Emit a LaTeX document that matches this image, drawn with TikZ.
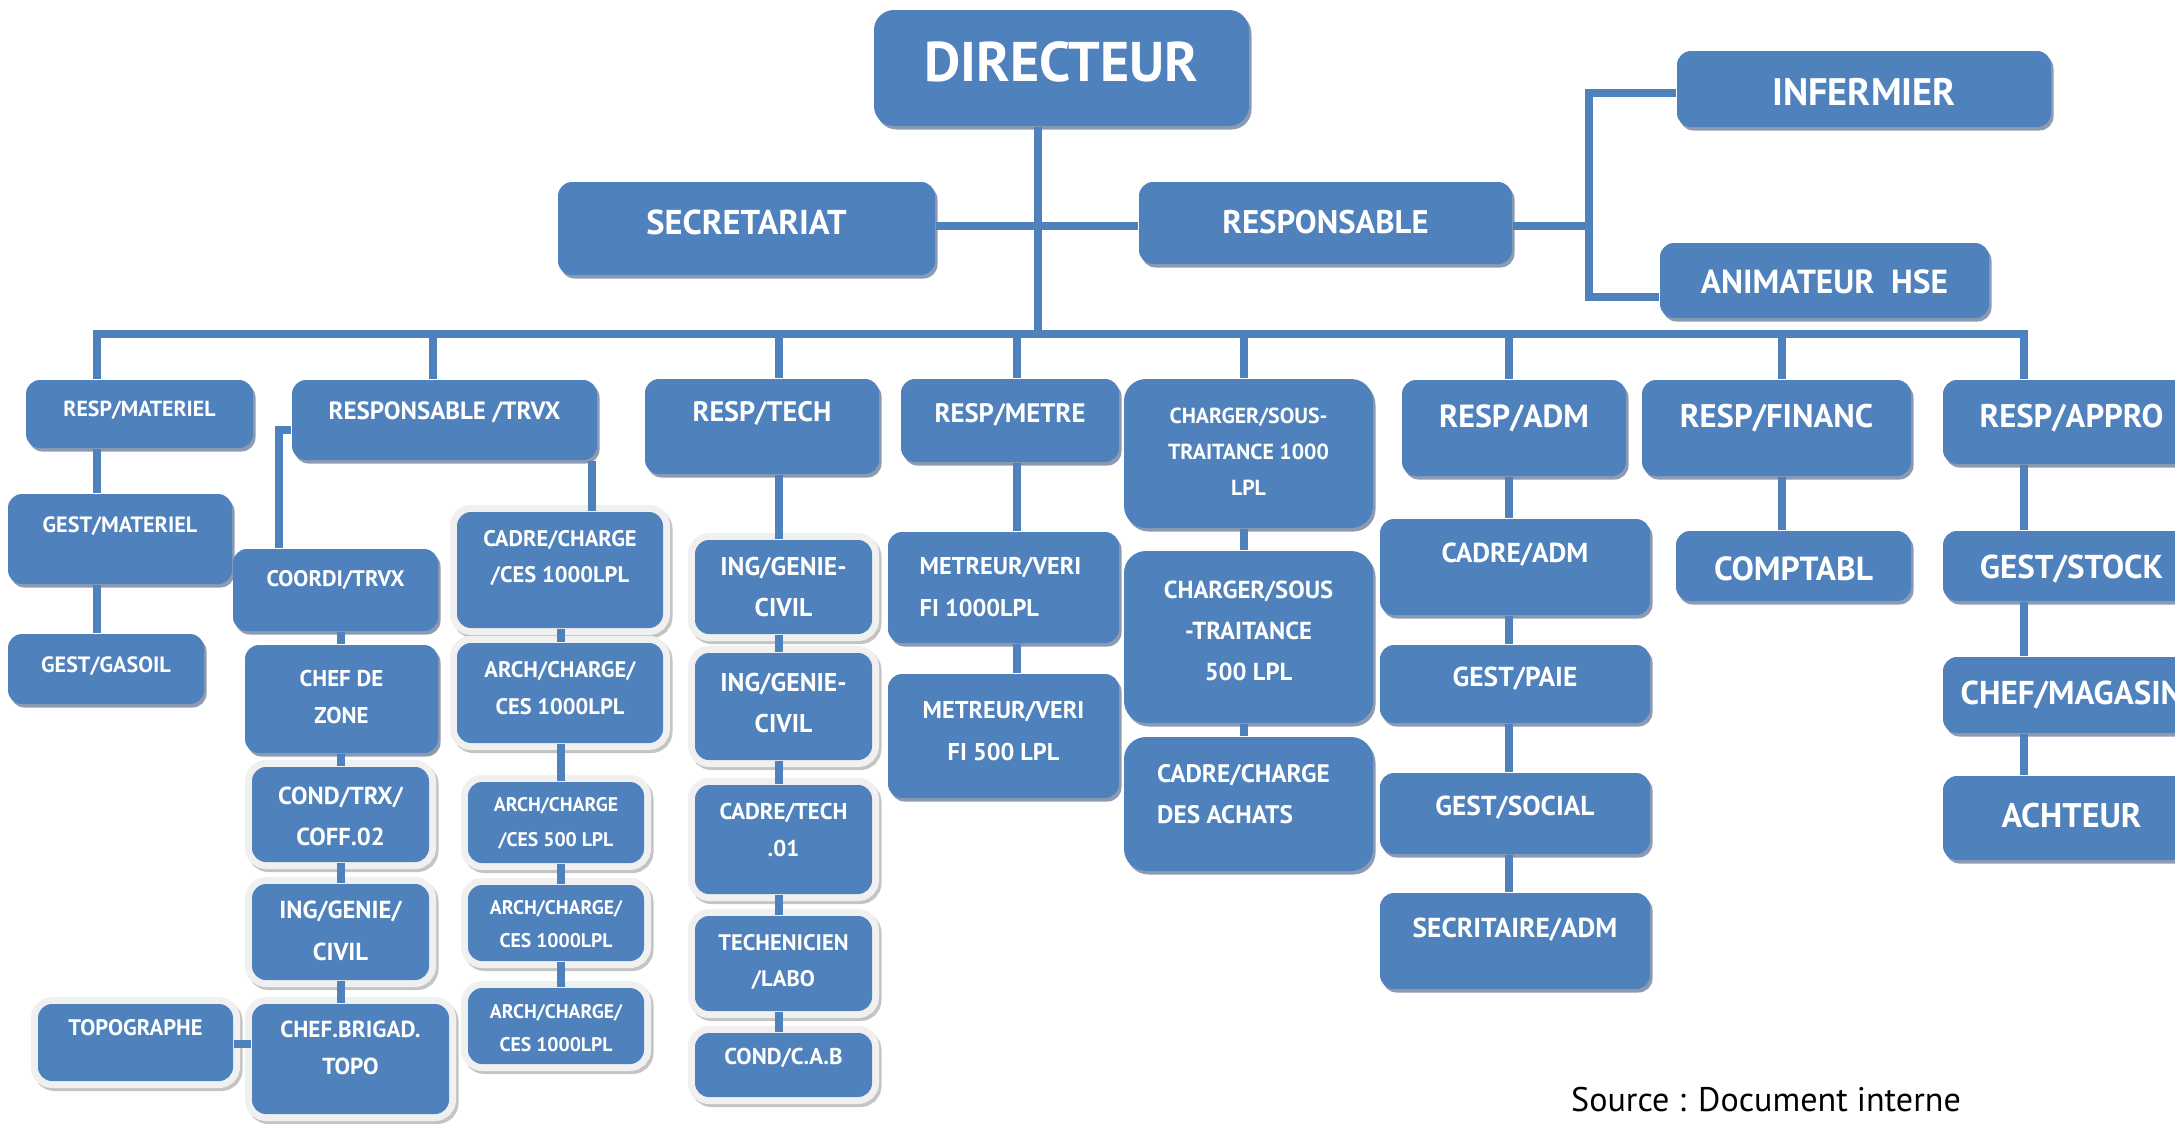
\documentclass[tikz,border=0pt]{standalone}
\usepackage{fontspec}
\setmainfont{PT Sans}
\usetikzlibrary{shadows}
\definecolor{boxblue}{RGB}{79,129,189}
\definecolor{boxshade}{RGB}{140,155,178}
\definecolor{halo}{RGB}{240,240,240}
\definecolor{haloshade}{RGB}{196,196,196}
\newcommand\fs[2]{\fontsize{#1}{#2}\selectfont\bfseries}
\tikzset{
  box/.style={fill=boxblue, rounded corners=0.14cm,
    drop shadow={shadow xshift=0.025cm, shadow yshift=-0.035cm, fill=boxshade, opacity=1}},
  halobox/.style={fill=boxblue, rounded corners=0.14cm,
    preaction={draw=haloshade, line width=0.14cm, transform canvas={xshift=0.025cm, yshift=-0.03cm}},
    preaction={draw=halo, line width=0.14cm}},
  lbl/.style={text=white, align=center, inner sep=0pt},
  conn/.style={draw=boxblue, line width=0.075cm},
}
% box: style, name, x1, y1, x2, y2, label options, label y, text
\newcommand\orgbox[9]{%
  \node[#1, minimum width={(#5-#3)*0.01cm}, minimum height={(#6-#4)*0.01cm}, inner sep=0pt]
    (#2) at ({(#3+#5)/2},{(#4+#6)/2}) {};
  \node[lbl, #7] (#2-t) at ({(#3+#5)/2},#8) {#9};}
\newcommand\vlink[3]{\draw[conn] (#1 |- #2.south) -- (#1 |- #3.north);}
\begin{document}
\begin{tikzpicture}[x=0.01cm, y=-0.01cm]
\useasboundingbox (0,0) rectangle (2175,1124);
\clip (0,0) rectangle (2175,1124);

% ---- direction
\orgbox{box, rounded corners=0.2cm}{dir}{874}{10}{1249}{126}{font=\fs{15.9}{19}}{62}{DIRECTEUR}
\orgbox{box}{sec}{558}{182}{935}{275}{font=\fs{9.8}{12}}{222}{SECRETARIAT}
\orgbox{box}{resp}{1139}{182}{1512}{264}{font=\fs{9.3}{12}}{222}{RESPONSABLE}
\orgbox{box}{inf}{1677}{51}{2051}{127}{font=\fs{10.9}{12}}{92}{INFERMIER}
\orgbox{box}{anim}{1660}{243}{1989}{318}{font=\fs{9.5}{12}}{282}{ANIMATEUR\hspace{0.5em}HSE}

% ---- services
\orgbox{box}{mat}{26}{380}{253}{448}{font=\fs{6.2}{9}}{410}{RESP/MATERIEL}
\orgbox{box}{trvx}{292}{380}{597}{460}{font=\fs{7.1}{10}}{412}{RESPONSABLE /TRVX}
\orgbox{box}{tech}{645}{379}{879}{474}{font=\fs{8}{10}}{413}{RESP/TECH}
\orgbox{box}{metre}{901}{379}{1119}{462}{font=\fs{7.6}{10}}{415}{RESP/METRE}
\orgbox{box, rounded corners=0.22cm}{ch1}{1124}{379}{1373}{528}{font=\fs{6.2}{10.2}}{452}{CHARGER/SOUS-\\TRAITANCE 1000\\LPL}
\orgbox{box}{adm}{1402}{380}{1626}{476}{font=\fs{9.1}{12}}{418}{RESP/ADM}
\orgbox{box}{fin}{1642}{380}{1911}{476}{font=\fs{9.3}{12}}{418}{RESP/FINANC}
\orgbox{box}{appro}{1943}{380}{2200}{464}{font=\fs{9.3}{12}}{418}{RESP/APPRO}

% ---- materiel
\orgbox{box}{gm}{8}{494}{232}{584}{font=\fs{6.3}{10}}{526}{GEST/MATERIEL}
\orgbox{box}{gas}{8}{634}{204}{704}{font=\fs{6.3}{10}}{666}{GEST/GASOIL}

% ---- travaux
\orgbox{box}{coordi}{233}{549}{438}{631}{font=\fs{6.4}{10}}{580}{COORDI/TRVX}
\orgbox{box}{zone}{245}{645}{438}{753}{font=\fs{6.5}{10.5}}{697}{CHEF DE\\ZONE}
\orgbox{halobox}{cond}{252}{767}{429}{862}{font=\fs{7}{11.7}}{816}{COND/TRX/\\COFF.02}
\orgbox{halobox}{ingc}{252}{884}{429}{980}{font=\fs{7}{12}}{931}{ING/GENIE/\\CIVIL}
\orgbox{halobox}{brig}{252}{1004}{449}{1114}{font=\fs{6.6}{10.5}}{1048}{CHEF.BRIGAD.\\TOPO}
\orgbox{halobox}{topo}{38}{1004}{233}{1081}{font=\fs{6.4}{10}}{1028}{TOPOGRAPHE}

\orgbox{halobox}{cc}{457}{512}{663}{628}{font=\fs{6.4}{10.5}}{558}{CADRE/CHARGE\\/CES 1000LPL}
\orgbox{halobox}{a1}{457}{643}{663}{743}{font=\fs{6.4}{10.5}}{688}{ARCH/CHARGE/\\CES 1000LPL}
\orgbox{halobox}{a2}{468}{782}{644}{863}{font=\fs{5.6}{10}}{823}{ARCH/CHARGE\\/CES 500 LPL}
\orgbox{halobox}{a3}{468}{885}{644}{961}{font=\fs{5.6}{9.4}}{924}{ARCH/CHARGE/\\CES 1000LPL}
\orgbox{halobox}{a4}{468}{988}{644}{1064}{font=\fs{5.6}{9.4}}{1028}{ARCH/CHARGE/\\CES 1000LPL}

% ---- technique
\orgbox{halobox}{ig1}{695}{540}{872}{634}{font=\fs{7.3}{11.7}}{587}{ING/GENIE-\\CIVIL}
\orgbox{halobox}{ig2}{695}{653}{872}{760}{font=\fs{7.3}{11.7}}{703}{ING/GENIE-\\CIVIL}
\orgbox{halobox}{ct}{695}{785}{872}{894}{font=\fs{6.5}{10.5}}{830}{CADRE/TECH\\.01}
\orgbox{halobox}{tl}{695}{916}{872}{1011}{font=\fs{6.4}{10.2}}{962}{TECHENICIEN\\/LABO}
\orgbox{halobox}{cab}{695}{1033}{872}{1097}{font=\fs{6.5}{9}}{1058}{COND/C.A.B}

% ---- metre
\orgbox{box}{m1}{888}{532}{1119}{643}{font=\fs{6.9}{12}, align=left, xshift=-0.03cm}{587}{METREUR/VERI\\FI 1000LPL}
\orgbox{box}{m2}{888}{674}{1119}{798}{font=\fs{6.9}{12}}{731}{METREUR/VERI\\FI 500 LPL}

% ---- sous-traitance
\orgbox{box, rounded corners=0.22cm}{ch2}{1124}{551}{1373}{723}{font=\fs{7}{11.7}}{631}{CHARGER/SOUS\\-TRAITANCE\\500 LPL}
\orgbox{box, rounded corners=0.22cm}{achat}{1124}{737}{1373}{871}{font=\fs{7.2}{11.7}, align=left, xshift=-0.05cm}{794}{CADRE/CHARGE\\DES ACHATS}

% ---- administration
\orgbox{box}{cadm}{1380}{519}{1650}{615}{font=\fs{7.8}{10}}{555}{CADRE/ADM}
\orgbox{box}{paie}{1380}{645}{1650}{723}{font=\fs{7.8}{10}}{679}{GEST/PAIE}
\orgbox{box}{soc}{1380}{773}{1650}{854}{font=\fs{7.8}{10}}{808}{GEST/SOCIAL}
\orgbox{box}{secadm}{1380}{893}{1650}{989}{font=\fs{7.8}{10}}{930}{SECRITAIRE/ADM}

% ---- finances and supply
\orgbox{box}{compt}{1676}{531}{1911}{601}{font=\fs{9.5}{12}}{569}{COMPTABL}
\orgbox{box}{stock}{1943}{531}{2200}{601}{font=\fs{9.4}{12}}{569}{GEST/STOCK}
\orgbox{box}{mag}{1943}{657}{2200}{733}{font=\fs{9.4}{12}}{695}{CHEF/MAGASIN}
\orgbox{box}{acht}{1943}{776}{2200}{860}{font=\fs{9.7}{12}}{816}{ACHTEUR}

% ---- connectors
\coordinate (dj) at (1038,334);
\coordinate (sr) at (1038,226);
\draw[conn] (dj |- dir.south) -- (dj);
\draw[conn] (sec.east |- sr) -- (resp.west |- sr);
\coordinate (bk) at (1589,226);
\coordinate (bkT) at (1589,93);
\coordinate (bkB) at (1589,297);
\draw[conn] (resp.east |- bk) -- (bk);
\draw[conn] (inf.west |- bkT) -- (bkT) -- (bkB) -- (anim.west |- bkB);

\coordinate (busL) at (93,334);
\coordinate (busR) at (2028,334);
\draw[conn, line width=0.08cm] (busL) -- (busR);

\coordinate (c1) at (97,334);
\coordinate (c2) at (433,334);
\coordinate (c3) at (779,334);
\coordinate (c4) at (1017,334);
\coordinate (c5) at (1244,334);
\coordinate (c6) at (1509,334);
\coordinate (c7) at (1782,334);
\coordinate (c8) at (2024,334);
\draw[conn] (c1) -- (c1 |- mat.north);
\draw[conn] (c2) -- (c2 |- trvx.north);
\draw[conn] (c3) -- (c3 |- tech.north);
\draw[conn] (c4) -- (c4 |- metre.north);
\draw[conn] (c5) -- (c5 |- ch1.north);
\draw[conn] (c6) -- (c6 |- adm.north);
\draw[conn] (c7) -- (c7 |- fin.north);
\draw[conn] (c8) -- (c8 |- appro.north);

\vlink{c1}{mat}{gm}
\vlink{c1}{gm}{gas}

\coordinate (tk) at (279,430);
\draw[conn] (trvx.west |- tk) -- (tk) -- (tk |- coordi.north);
\coordinate (xz) at (341,0);
\vlink{xz}{coordi}{zone}
\vlink{xz}{zone}{cond}
\vlink{xz}{cond}{ingc}
\vlink{xz}{ingc}{brig}
\coordinate (tp) at (0,1044);
\draw[conn] (topo.east |- tp) -- (brig.west |- tp);

\coordinate (xa) at (592,0);
\vlink{xa}{trvx}{cc}
\coordinate (xb) at (561,0);
\vlink{xb}{cc}{a1}
\vlink{xb}{a1}{a2}
\vlink{xb}{a2}{a3}
\vlink{xb}{a3}{a4}

\vlink{c3}{tech}{ig1}
\vlink{c3}{ig1}{ig2}
\vlink{c3}{ig2}{ct}
\vlink{c3}{ct}{tl}
\vlink{c3}{tl}{cab}

\vlink{c4}{metre}{m1}
\vlink{c4}{m1}{m2}

\vlink{c5}{ch1}{ch2}
\vlink{c5}{ch2}{achat}

\vlink{c6}{adm}{cadm}
\vlink{c6}{cadm}{paie}
\vlink{c6}{paie}{soc}
\vlink{c6}{soc}{secadm}

\vlink{c7}{fin}{compt}

\vlink{c8}{appro}{stock}
\vlink{c8}{stock}{mag}
\vlink{c8}{mag}{acht}

% ---- source
\node[font=\fontsize{9.7}{12}\selectfont, inner sep=0pt] (src) at (1766,1100) {Source : Document interne};
\end{tikzpicture}
\end{document}
